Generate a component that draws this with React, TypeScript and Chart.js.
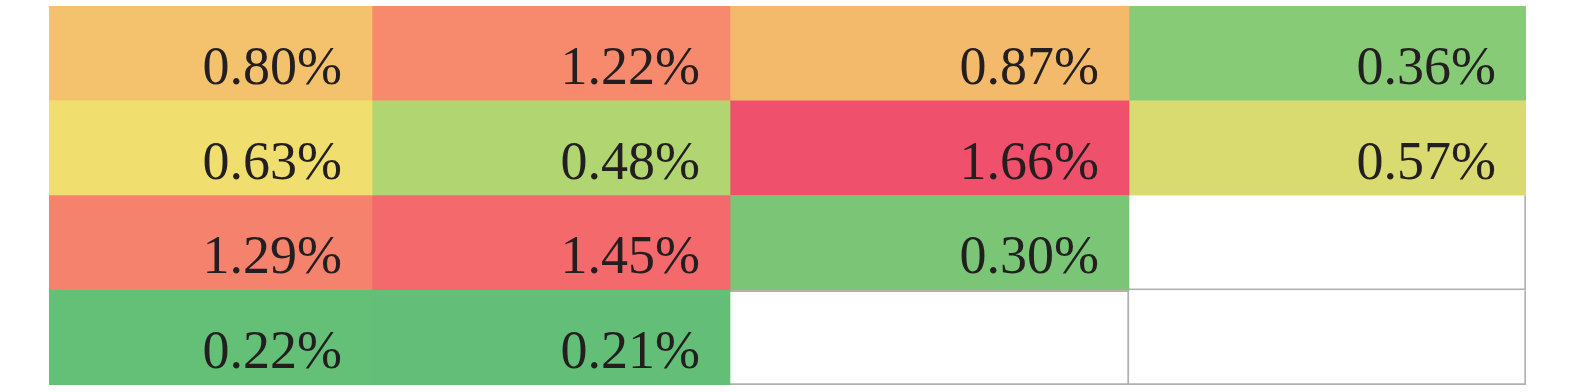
import React, { useEffect, useRef } from "react";
import { Chart, registerables } from "chart.js";

Chart.register(...registerables);

const rowLabels = ["R1", "R2", "R3", "R4"];
const row1 = [0.8, 1.22, 0.87, 0.36];
const row2 = [0.63, 0.48, 1.66, 0.57];
const row3 = [1.29, 1.45, 0.3, null];
const row4 = [0.22, 0.21, null, null];
const rows: (number | null)[][] = [row1, row2, row3, row4];

const row1Colors = ["#F4C26C", "#F7896C", "#F4BA6C", "#87CB77"];
const row2Colors = ["#F0DF6E", "#B1D571", "#EF506B", "#D9DB71"];
const row3Colors = ["#F5826C", "#F3696C", "#7AC676", "#FFFFFF"];
const row4Colors = ["#64C077", "#63BF77", "#FFFFFF", "#FFFFFF"];
const cellColors = [row1Colors, row2Colors, row3Colors, row4Colors];

// column widths (layout)
const columnWidths = [323, 358, 399, 397];

export default function App() {
  const ref = useRef<HTMLCanvasElement | null>(null);

  useEffect(() => {
    document.body.style.margin = "0";
    const cum = [0];
    columnWidths.forEach((w) => cum.push(cum[cum.length - 1] + w));
    const total = cum[cum.length - 1];

    const datasets = columnWidths.map((_, j) => ({
      label: "C" + (j + 1),
      data: rows.map(() => [cum[j], cum[j + 1]]),
      backgroundColor: rows.map((_, i) => cellColors[i][j]),
      borderColor: "#B0B0B0",
      borderWidth: rows.map((r, i) =>
        r[j] === null
          ? { top: i === 3 && j === 2 ? 2 : 0, right: 2, bottom: 2, left: 0 }
          : 0
      ),
      borderSkipped: false,
      barPercentage: 1,
      categoryPercentage: 1,
    }));

    const labelPlugin = {
      id: "cellLabels",
      afterDatasetsDraw(chart: any) {
        const ctx = chart.ctx;
        ctx.save();
        ctx.font = '54px "Liberation Serif", "DejaVu Serif", serif';
        ctx.fillStyle = "#231F20";
        ctx.textAlign = "right";
        ctx.textBaseline = "alphabetic";
        chart.data.datasets.forEach((ds: any, j: number) => {
          const meta = chart.getDatasetMeta(j);
          meta.data.forEach((el: any, i: number) => {
            const v = rows[i][j];
            if (v === null || v === undefined) return;
            const right = Math.max(el.x, el.base);
            const bottom = el.y + el.height / 2;
            ctx.fillText(v.toFixed(2) + "%", right - 30, bottom - 17);
          });
        });
        ctx.restore();
      },
    };

    const chart = new Chart(ref.current!, {
      type: "bar",
      data: { labels: rowLabels, datasets: datasets as any },
      options: {
        indexAxis: "y",
        animation: false,
        responsive: false,
        maintainAspectRatio: false,
        layout: { padding: { left: 49, right: 49, top: 6, bottom: 7 } },
        plugins: { legend: { display: false }, tooltip: { enabled: false } },
        scales: {
          x: { type: "linear", min: 0, max: total, display: false, stacked: false },
          y: { type: "category", display: false, stacked: true, grid: { display: false } },
        },
      } as any,
      plugins: [labelPlugin],
    });
    return () => chart.destroy();
  }, []);

  return (
    <div style={{ width: 1575, height: 392 }}>
      <canvas ref={ref} width={1575} height={392} style={{ display: "block" }} />
    </div>
  );
}
